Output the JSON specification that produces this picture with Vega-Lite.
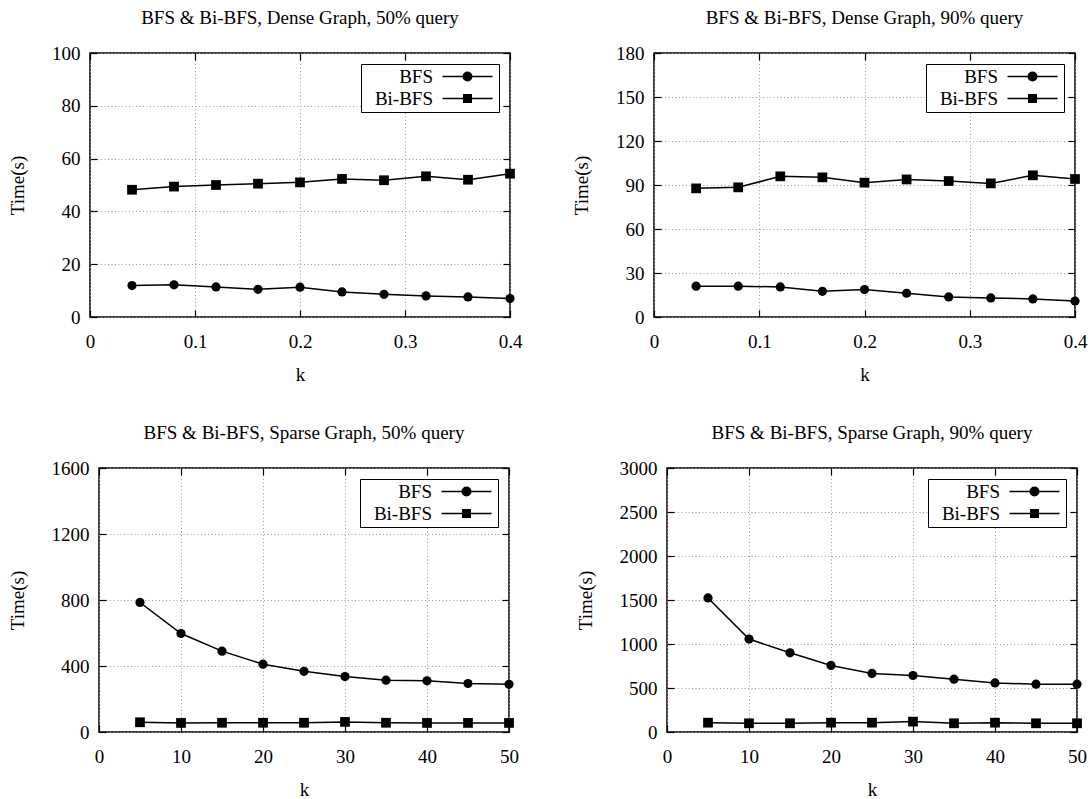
{
  "$schema": "https://vega.github.io/schema/vega-lite/v6.json",
  "padding": {"left": 6, "top": 8, "right": 0, "bottom": 0},
  "background": "white",
  "datasets": {
    "d": [
      {"p": 1, "k": 0.04, "a": "BFS", "t": 11.9},
      {"p": 1, "k": 0.08, "a": "BFS", "t": 12.2},
      {"p": 1, "k": 0.12, "a": "BFS", "t": 11.4},
      {"p": 1, "k": 0.16, "a": "BFS", "t": 10.5},
      {"p": 1, "k": 0.2, "a": "BFS", "t": 11.3},
      {"p": 1, "k": 0.24, "a": "BFS", "t": 9.5},
      {"p": 1, "k": 0.28, "a": "BFS", "t": 8.6},
      {"p": 1, "k": 0.32, "a": "BFS", "t": 8.0},
      {"p": 1, "k": 0.36, "a": "BFS", "t": 7.6},
      {"p": 1, "k": 0.4, "a": "BFS", "t": 7.0},
      {"p": 1, "k": 0.04, "a": "Bi-BFS", "t": 48.2},
      {"p": 1, "k": 0.08, "a": "Bi-BFS", "t": 49.4},
      {"p": 1, "k": 0.12, "a": "Bi-BFS", "t": 50.0},
      {"p": 1, "k": 0.16, "a": "Bi-BFS", "t": 50.5},
      {"p": 1, "k": 0.2, "a": "Bi-BFS", "t": 51.0},
      {"p": 1, "k": 0.24, "a": "Bi-BFS", "t": 52.3},
      {"p": 1, "k": 0.28, "a": "Bi-BFS", "t": 51.8},
      {"p": 1, "k": 0.32, "a": "Bi-BFS", "t": 53.3},
      {"p": 1, "k": 0.36, "a": "Bi-BFS", "t": 52.0},
      {"p": 1, "k": 0.4, "a": "Bi-BFS", "t": 54.3},
      {"p": 2, "k": 0.04, "a": "BFS", "t": 21.0},
      {"p": 2, "k": 0.08, "a": "BFS", "t": 21.0},
      {"p": 2, "k": 0.12, "a": "BFS", "t": 20.5},
      {"p": 2, "k": 0.16, "a": "BFS", "t": 17.5},
      {"p": 2, "k": 0.2, "a": "BFS", "t": 18.7},
      {"p": 2, "k": 0.24, "a": "BFS", "t": 16.2},
      {"p": 2, "k": 0.28, "a": "BFS", "t": 13.7},
      {"p": 2, "k": 0.32, "a": "BFS", "t": 13.0},
      {"p": 2, "k": 0.36, "a": "BFS", "t": 12.3},
      {"p": 2, "k": 0.4, "a": "BFS", "t": 10.9},
      {"p": 2, "k": 0.04, "a": "Bi-BFS", "t": 87.7},
      {"p": 2, "k": 0.08, "a": "Bi-BFS", "t": 88.4},
      {"p": 2, "k": 0.12, "a": "Bi-BFS", "t": 95.9},
      {"p": 2, "k": 0.16, "a": "Bi-BFS", "t": 95.2},
      {"p": 2, "k": 0.2, "a": "Bi-BFS", "t": 91.6},
      {"p": 2, "k": 0.24, "a": "Bi-BFS", "t": 93.8},
      {"p": 2, "k": 0.28, "a": "Bi-BFS", "t": 92.7},
      {"p": 2, "k": 0.32, "a": "Bi-BFS", "t": 91.1},
      {"p": 2, "k": 0.36, "a": "Bi-BFS", "t": 96.6},
      {"p": 2, "k": 0.4, "a": "Bi-BFS", "t": 94.1},
      {"p": 3, "k": 5, "a": "BFS", "t": 785},
      {"p": 3, "k": 10, "a": "BFS", "t": 597},
      {"p": 3, "k": 15, "a": "BFS", "t": 490},
      {"p": 3, "k": 20, "a": "BFS", "t": 411},
      {"p": 3, "k": 25, "a": "BFS", "t": 368},
      {"p": 3, "k": 30, "a": "BFS", "t": 336},
      {"p": 3, "k": 35, "a": "BFS", "t": 314},
      {"p": 3, "k": 40, "a": "BFS", "t": 310},
      {"p": 3, "k": 45, "a": "BFS", "t": 294},
      {"p": 3, "k": 50, "a": "BFS", "t": 289},
      {"p": 3, "k": 5, "a": "Bi-BFS", "t": 59},
      {"p": 3, "k": 10, "a": "Bi-BFS", "t": 55},
      {"p": 3, "k": 15, "a": "Bi-BFS", "t": 56},
      {"p": 3, "k": 20, "a": "Bi-BFS", "t": 56},
      {"p": 3, "k": 25, "a": "Bi-BFS", "t": 56},
      {"p": 3, "k": 30, "a": "Bi-BFS", "t": 61},
      {"p": 3, "k": 35, "a": "Bi-BFS", "t": 56},
      {"p": 3, "k": 40, "a": "Bi-BFS", "t": 55},
      {"p": 3, "k": 45, "a": "Bi-BFS", "t": 55},
      {"p": 3, "k": 50, "a": "Bi-BFS", "t": 55},
      {"p": 4, "k": 5, "a": "BFS", "t": 1523},
      {"p": 4, "k": 10, "a": "BFS", "t": 1056},
      {"p": 4, "k": 15, "a": "BFS", "t": 900},
      {"p": 4, "k": 20, "a": "BFS", "t": 756},
      {"p": 4, "k": 25, "a": "BFS", "t": 665},
      {"p": 4, "k": 30, "a": "BFS", "t": 642},
      {"p": 4, "k": 35, "a": "BFS", "t": 600},
      {"p": 4, "k": 40, "a": "BFS", "t": 558},
      {"p": 4, "k": 45, "a": "BFS", "t": 543},
      {"p": 4, "k": 50, "a": "BFS", "t": 543},
      {"p": 4, "k": 5, "a": "Bi-BFS", "t": 106},
      {"p": 4, "k": 10, "a": "Bi-BFS", "t": 99},
      {"p": 4, "k": 15, "a": "Bi-BFS", "t": 99},
      {"p": 4, "k": 20, "a": "Bi-BFS", "t": 106},
      {"p": 4, "k": 25, "a": "Bi-BFS", "t": 106},
      {"p": 4, "k": 30, "a": "Bi-BFS", "t": 118},
      {"p": 4, "k": 35, "a": "Bi-BFS", "t": 99},
      {"p": 4, "k": 40, "a": "Bi-BFS", "t": 106},
      {"p": 4, "k": 45, "a": "Bi-BFS", "t": 99},
      {"p": 4, "k": 50, "a": "Bi-BFS", "t": 99}
    ]
  },
  "config": {
    "font": "Liberation Serif",
    "view": {"stroke": "black", "strokeWidth": 1.5},
    "title": {"font": "Liberation Serif", "fontSize": 19, "fontWeight": "normal", "color": "black", "offset": 16},
    "axis": {
      "labelFont": "Liberation Serif", "labelFontSize": 19, "labelColor": "black", "labelFlush": false, "labelOverlap": false,
      "titleFont": "Liberation Serif", "titleFontSize": 19, "titleFontWeight": "normal", "titleColor": "black",
      "domain": false, "tickColor": "black", "tickSize": -7, "tickWidth": 1.2,
      "gridColor": "#9a9a9a", "gridDash": [1, 2.5], "gridWidth": 1
    },
    "axisX": {"labelPadding": 22, "titlePadding": 14},
    "axisY": {"labelPadding": 17, "titlePadding": 24},
    "legend": {
      "orient": "top-right", "offset": 11, "title": null,
      "strokeColor": "black", "fillColor": "white", "padding": 3, "rowPadding": 2,
      "labelFont": "Liberation Serif", "labelFontSize": 19, "labelColor": "black",
      "labelAlign": "right", "labelOffset": 50, "symbolSize": 100,
      "symbolStrokeColor": "black", "symbolStrokeWidth": 1.5, "symbolOpacity": 1
    }
  },
  "resolve": {"scale": {"shape": "independent"}, "legend": {"shape": "independent"}},
  "spacing": 38,
  "vconcat": [
    {
      "spacing": 48,
      "resolve": {"scale": {"shape": "independent"}, "legend": {"shape": "independent"}},
      "hconcat": [
        {
          "spacing": 0,
          "resolve": {"scale": {"shape": "independent"}, "legend": {"shape": "independent"}},
          "hconcat": [
            {"width": 1, "height": 1, "view": {"stroke": null}, "data": {"values": []}, "mark": "point"},
            {
              "title": "BFS & Bi-BFS, Dense Graph, 50% query",
              "width": 420, "height": 264,
              "data": {"name": "d"},
              "transform": [{"filter": "datum.p == 1"}],
              "layer": [
                {
                  "mark": {"type": "line", "color": "black", "strokeWidth": 1.5},
                  "encoding": {
                    "x": {"field": "k", "type": "quantitative", "scale": {"domain": [0, 0.4], "nice": false, "zero": false}, "axis": {"orient": "bottom", "values": [0, 0.1, 0.2, 0.3, 0.4], "format": "~g", "title": "k"}},
                    "y": {"field": "t", "type": "quantitative", "scale": {"domain": [0, 100], "nice": false, "zero": false}, "axis": {"orient": "left", "values": [0, 20, 40, 60, 80, 100], "format": "d", "title": "Time(s)"}},
                    "detail": {"field": "a", "type": "nominal"}
                  }
                },
                {
                  "transform": [{"filter": "datum.a == 'BFS'"}],
                  "mark": {"type": "point", "shape": "circle", "filled": true, "color": "black", "size": 85, "opacity": 1},
                  "encoding": {
                    "x": {"field": "k", "type": "quantitative", "scale": {"domain": [0, 0.4], "nice": false, "zero": false}, "axis": {"orient": "top", "values": [0, 0.1, 0.2, 0.3, 0.4], "labels": false, "title": null, "grid": false}},
                    "y": {"field": "t", "type": "quantitative", "scale": {"domain": [0, 100], "nice": false, "zero": false}, "axis": {"orient": "right", "values": [0, 20, 40, 60, 80, 100], "labels": false, "title": null, "grid": false}}
                  }
                },
                {
                  "transform": [{"filter": "datum.a == 'Bi-BFS'"}],
                  "mark": {"type": "point", "shape": "square", "filled": true, "color": "black", "size": 95, "opacity": 1},
                  "encoding": {
                    "x": {"field": "k", "type": "quantitative", "scale": {"domain": [0, 0.4], "nice": false, "zero": false}, "axis": null},
                    "y": {"field": "t", "type": "quantitative", "scale": {"domain": [0, 100], "nice": false, "zero": false}, "axis": null}
                  }
                },
                {
                  "transform": [{"filter": "datum.p == 0"}],
                  "mark": {"type": "point", "filled": false, "color": "black", "strokeWidth": 1.5, "size": 100, "opacity": 1},
                  "encoding": {
                    "shape": {"field": "a", "type": "nominal", "scale": {"domain": ["BFS", "Bi-BFS"], "range": ["M-1.6,0M13.8,0H23.8M17.95,0A0.85,0.85 0 1,1 19.65,0A0.85,0.85 0 1,1 17.95,0M18.2,0A0.6,0.6 0 1,1 19.4,0A0.6,0.6 0 1,1 18.2,0M18.45,0A0.35,0.35 0 1,1 19.15,0A0.35,0.35 0 1,1 18.45,0M18.68,0A0.12,0.12 0 1,1 18.92,0A0.12,0.12 0 1,1 18.68,0", "M-1.6,0M13.8,0H23.8M18.05,-0.75H19.55V0.75H18.05ZM18.3,-0.5H19.3V0.5H18.3ZM18.55,-0.25H19.05V0.25H18.55ZM18.75,-0.05H18.85V0.05H18.75Z"]}}
                  }
                }
              ]
            }
          ]
        },
        {
          "title": "BFS & Bi-BFS, Dense Graph, 90% query",
          "width": 421, "height": 264,
          "data": {"name": "d"},
          "transform": [{"filter": "datum.p == 2"}],
          "layer": [
            {
              "mark": {"type": "line", "color": "black", "strokeWidth": 1.5},
              "encoding": {
                "x": {"field": "k", "type": "quantitative", "scale": {"domain": [0, 0.4], "nice": false, "zero": false}, "axis": {"orient": "bottom", "values": [0, 0.1, 0.2, 0.3, 0.4], "format": "~g", "title": "k"}},
                "y": {"field": "t", "type": "quantitative", "scale": {"domain": [0, 180], "nice": false, "zero": false}, "axis": {"orient": "left", "values": [0, 30, 60, 90, 120, 150, 180], "format": "d", "title": "Time(s)"}},
                "detail": {"field": "a", "type": "nominal"}
              }
            },
            {
              "transform": [{"filter": "datum.a == 'BFS'"}],
              "mark": {"type": "point", "shape": "circle", "filled": true, "color": "black", "size": 85, "opacity": 1},
              "encoding": {
                "x": {"field": "k", "type": "quantitative", "scale": {"domain": [0, 0.4], "nice": false, "zero": false}, "axis": {"orient": "top", "values": [0, 0.1, 0.2, 0.3, 0.4], "labels": false, "title": null, "grid": false}},
                "y": {"field": "t", "type": "quantitative", "scale": {"domain": [0, 180], "nice": false, "zero": false}, "axis": {"orient": "right", "values": [0, 30, 60, 90, 120, 150, 180], "labels": false, "title": null, "grid": false}}
              }
            },
            {
              "transform": [{"filter": "datum.a == 'Bi-BFS'"}],
              "mark": {"type": "point", "shape": "square", "filled": true, "color": "black", "size": 95, "opacity": 1},
              "encoding": {
                "x": {"field": "k", "type": "quantitative", "scale": {"domain": [0, 0.4], "nice": false, "zero": false}, "axis": null},
                "y": {"field": "t", "type": "quantitative", "scale": {"domain": [0, 180], "nice": false, "zero": false}, "axis": null}
              }
            },
            {
              "transform": [{"filter": "datum.p == 0"}],
              "mark": {"type": "point", "filled": false, "color": "black", "strokeWidth": 1.5, "size": 100, "opacity": 1},
              "encoding": {
                "shape": {"field": "a", "type": "nominal", "scale": {"domain": ["BFS", "Bi-BFS"], "range": ["M-1.6,0M13.8,0H23.8M17.95,0A0.85,0.85 0 1,1 19.65,0A0.85,0.85 0 1,1 17.95,0M18.2,0A0.6,0.6 0 1,1 19.4,0A0.6,0.6 0 1,1 18.2,0M18.45,0A0.35,0.35 0 1,1 19.15,0A0.35,0.35 0 1,1 18.45,0M18.68,0A0.12,0.12 0 1,1 18.92,0A0.12,0.12 0 1,1 18.68,0", "M-1.6,0M13.8,0H23.8M18.05,-0.75H19.55V0.75H18.05ZM18.3,-0.5H19.3V0.5H18.3ZM18.55,-0.25H19.05V0.25H18.55ZM18.75,-0.05H18.85V0.05H18.75Z"]}}
              }
            }
          ]
        }
      ]
    },
    {
      "spacing": 55,
      "resolve": {"scale": {"shape": "independent"}, "legend": {"shape": "independent"}},
      "hconcat": [
        {
          "spacing": 0,
          "resolve": {"scale": {"shape": "independent"}, "legend": {"shape": "independent"}},
          "hconcat": [
            {"width": 1, "height": 1, "view": {"stroke": null}, "data": {"values": []}, "mark": "point"},
            {
              "title": "BFS & Bi-BFS, Sparse Graph, 50% query",
              "width": 410, "height": 264,
              "data": {"name": "d"},
              "transform": [{"filter": "datum.p == 3"}],
              "layer": [
                {
                  "mark": {"type": "line", "color": "black", "strokeWidth": 1.5},
                  "encoding": {
                    "x": {"field": "k", "type": "quantitative", "scale": {"domain": [0, 50], "nice": false, "zero": false}, "axis": {"orient": "bottom", "values": [0, 10, 20, 30, 40, 50], "format": "d", "title": "k"}},
                    "y": {"field": "t", "type": "quantitative", "scale": {"domain": [0, 1600], "nice": false, "zero": false}, "axis": {"orient": "left", "values": [0, 400, 800, 1200, 1600], "format": "d", "title": "Time(s)"}},
                    "detail": {"field": "a", "type": "nominal"}
                  }
                },
                {
                  "transform": [{"filter": "datum.a == 'BFS'"}],
                  "mark": {"type": "point", "shape": "circle", "filled": true, "color": "black", "size": 85, "opacity": 1},
                  "encoding": {
                    "x": {"field": "k", "type": "quantitative", "scale": {"domain": [0, 50], "nice": false, "zero": false}, "axis": {"orient": "top", "values": [0, 10, 20, 30, 40, 50], "labels": false, "title": null, "grid": false}},
                    "y": {"field": "t", "type": "quantitative", "scale": {"domain": [0, 1600], "nice": false, "zero": false}, "axis": {"orient": "right", "values": [0, 400, 800, 1200, 1600], "labels": false, "title": null, "grid": false}}
                  }
                },
                {
                  "transform": [{"filter": "datum.a == 'Bi-BFS'"}],
                  "mark": {"type": "point", "shape": "square", "filled": true, "color": "black", "size": 95, "opacity": 1},
                  "encoding": {
                    "x": {"field": "k", "type": "quantitative", "scale": {"domain": [0, 50], "nice": false, "zero": false}, "axis": null},
                    "y": {"field": "t", "type": "quantitative", "scale": {"domain": [0, 1600], "nice": false, "zero": false}, "axis": null}
                  }
                },
                {
                  "transform": [{"filter": "datum.p == 0"}],
                  "mark": {"type": "point", "filled": false, "color": "black", "strokeWidth": 1.5, "size": 100, "opacity": 1},
                  "encoding": {
                    "shape": {"field": "a", "type": "nominal", "scale": {"domain": ["BFS", "Bi-BFS"], "range": ["M-1.6,0M13.8,0H23.8M17.95,0A0.85,0.85 0 1,1 19.65,0A0.85,0.85 0 1,1 17.95,0M18.2,0A0.6,0.6 0 1,1 19.4,0A0.6,0.6 0 1,1 18.2,0M18.45,0A0.35,0.35 0 1,1 19.15,0A0.35,0.35 0 1,1 18.45,0M18.68,0A0.12,0.12 0 1,1 18.92,0A0.12,0.12 0 1,1 18.68,0", "M-1.6,0M13.8,0H23.8M18.05,-0.75H19.55V0.75H18.05ZM18.3,-0.5H19.3V0.5H18.3ZM18.55,-0.25H19.05V0.25H18.55ZM18.75,-0.05H18.85V0.05H18.75Z"]}}
                  }
                }
              ]
            }
          ]
        },
        {
          "title": "BFS & Bi-BFS, Sparse Graph, 90% query",
          "width": 410, "height": 264,
          "data": {"name": "d"},
          "transform": [{"filter": "datum.p == 4"}],
          "layer": [
            {
              "mark": {"type": "line", "color": "black", "strokeWidth": 1.5},
              "encoding": {
                "x": {"field": "k", "type": "quantitative", "scale": {"domain": [0, 50], "nice": false, "zero": false}, "axis": {"orient": "bottom", "values": [0, 10, 20, 30, 40, 50], "format": "d", "title": "k"}},
                "y": {"field": "t", "type": "quantitative", "scale": {"domain": [0, 3000], "nice": false, "zero": false}, "axis": {"orient": "left", "values": [0, 500, 1000, 1500, 2000, 2500, 3000], "format": "d", "title": "Time(s)"}},
                "detail": {"field": "a", "type": "nominal"}
              }
            },
            {
              "transform": [{"filter": "datum.a == 'BFS'"}],
              "mark": {"type": "point", "shape": "circle", "filled": true, "color": "black", "size": 85, "opacity": 1},
              "encoding": {
                "x": {"field": "k", "type": "quantitative", "scale": {"domain": [0, 50], "nice": false, "zero": false}, "axis": {"orient": "top", "values": [0, 10, 20, 30, 40, 50], "labels": false, "title": null, "grid": false}},
                "y": {"field": "t", "type": "quantitative", "scale": {"domain": [0, 3000], "nice": false, "zero": false}, "axis": {"orient": "right", "values": [0, 500, 1000, 1500, 2000, 2500, 3000], "labels": false, "title": null, "grid": false}}
              }
            },
            {
              "transform": [{"filter": "datum.a == 'Bi-BFS'"}],
              "mark": {"type": "point", "shape": "square", "filled": true, "color": "black", "size": 95, "opacity": 1},
              "encoding": {
                "x": {"field": "k", "type": "quantitative", "scale": {"domain": [0, 50], "nice": false, "zero": false}, "axis": null},
                "y": {"field": "t", "type": "quantitative", "scale": {"domain": [0, 3000], "nice": false, "zero": false}, "axis": null}
              }
            },
            {
              "transform": [{"filter": "datum.p == 0"}],
              "mark": {"type": "point", "filled": false, "color": "black", "strokeWidth": 1.5, "size": 100, "opacity": 1},
              "encoding": {
                "shape": {"field": "a", "type": "nominal", "scale": {"domain": ["BFS", "Bi-BFS"], "range": ["M-1.6,0M13.8,0H23.8M17.95,0A0.85,0.85 0 1,1 19.65,0A0.85,0.85 0 1,1 17.95,0M18.2,0A0.6,0.6 0 1,1 19.4,0A0.6,0.6 0 1,1 18.2,0M18.45,0A0.35,0.35 0 1,1 19.15,0A0.35,0.35 0 1,1 18.45,0M18.68,0A0.12,0.12 0 1,1 18.92,0A0.12,0.12 0 1,1 18.68,0", "M-1.6,0M13.8,0H23.8M18.05,-0.75H19.55V0.75H18.05ZM18.3,-0.5H19.3V0.5H18.3ZM18.55,-0.25H19.05V0.25H18.55ZM18.75,-0.05H18.85V0.05H18.75Z"]}}
              }
            }
          ]
        }
      ]
    }
  ]
}
